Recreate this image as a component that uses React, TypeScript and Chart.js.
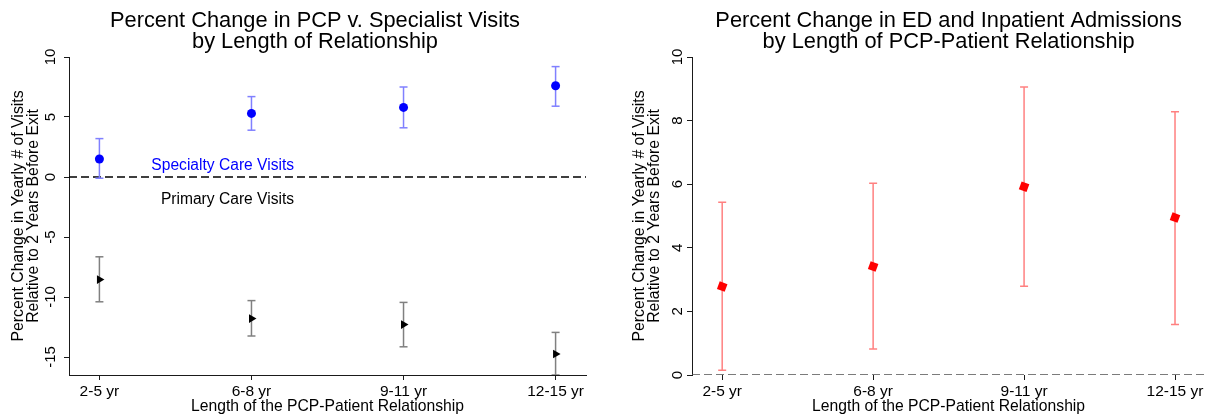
import React, { useEffect, useRef } from 'react';
import { Chart, registerables } from 'chart.js';

Chart.register(...registerables);

const FONT = "'Liberation Sans', Arial, Helvetica, sans-serif";
Chart.defaults.font.family = FONT;
Chart.defaults.color = '#000';

// ---------------- data ----------------
const categories = ['2-5 yr', '6-8 yr', '9-11 yr', '12-15 yr'];

const specialtyEst = [1.5, 5.3, 5.8, 7.6];
const specialtyLow = [-0.1, 3.9, 4.1, 5.9];
const specialtyHigh = [3.2, 6.7, 7.5, 9.2];

const primaryEst = [-8.55, -11.8, -12.3, -14.75];
const primaryLow = [-10.4, -13.25, -14.15, -16.5];
const primaryHigh = [-6.65, -10.3, -10.45, -12.95];

const edEst = [2.78, 3.41, 5.92, 4.95];
const edLow = [0.15, 0.82, 2.79, 1.59];
const edHigh = [5.43, 6.03, 9.06, 8.28];

const leftYTicks = [10, 5, 0, -5, -10, -15];
const rightYTicks = [0, 2, 4, 6, 8, 10];

const leftTitle = ['Percent Change in PCP v. Specialist Visits', 'by Length of Relationship'];
const rightTitle = ['Percent Change in ED and Inpatient Admissions', 'by Length of PCP-Patient Relationship'];
const yTitle = ['Percent Change in Yearly # of Visits', 'Relative to 2 Years Before Exit'];
const xTitle = 'Length of the PCP-Patient Relationship';

type Note = { text: string; x: number; y: number; color: string };
const leftNotes: Note[] = [
  { text: 'Specialty Care Visits', x: 2.28, y: 0.95, color: '#0000ff' },
  { text: 'Primary Care Visits', x: 2.28, y: -1.85, color: '#000000' },
];

// ---------------- helpers ----------------
const pointData = (est: number[]) => est.map((v, i) => ({ x: i + 1, y: v }));
const barData = (lo: number[], hi: number[]) => {
  const out: { x: number; y: number | null }[] = [];
  lo.forEach((l, i) => {
    out.push({ x: i + 1, y: l }, { x: i + 1, y: hi[i] }, { x: i + 1, y: null });
  });
  return out;
};

const notesPlugin = (notes: Note[]) => ({
  id: 'seriesNotes',
  afterDatasetsDraw(chart: any) {
    const { ctx, scales } = chart;
    ctx.save();
    ctx.font = `15.6px ${FONT}`;
    ctx.textAlign = 'right';
    ctx.textBaseline = 'middle';
    notes.forEach((n) => {
      ctx.fillStyle = n.color;
      ctx.fillText(n.text, scales.x.getPixelForValue(n.x), scales.y.getPixelForValue(n.y));
    });
    ctx.restore();
  },
});

const AXIS = '#1a1a1a';

function buildConfig(o: {
  title: string[];
  titleFull: boolean;
  yMin: number;
  yMax: number;
  yTicks: number[];
  padLeft: number;
  yAxisWidth: number;
  yTitlePad: number;
  yTickPad: number;
  padRight: number;
  xBorder: boolean;
  datasets: any[];
  notes: Note[];
}): any {
  return {
    type: 'line',
    data: { datasets: o.datasets },
    options: {
      responsive: false,
      animation: false,
      events: [],
      layout: { padding: { left: o.padLeft, right: o.padRight, top: 0, bottom: 0 } },
      plugins: {
        legend: { display: false },
        tooltip: { enabled: false },
        title: {
          display: true,
          text: o.title,
          fullSize: o.titleFull,
          color: '#000',
          font: { family: FONT, size: 21.8, weight: 'normal', lineHeight: '21.2px' },
          padding: { top: 9.9, bottom: 4.7 },
        },
      },
      scales: {
        x: {
          type: 'linear',
          min: 0.8,
          max: 4.2,
          afterBuildTicks: (s: any) => {
            s.ticks = categories.map((_, i) => ({ value: i + 1 }));
          },
          afterFit: (s: any) => {
            s.height = 42;
          },
          ticks: {
            autoSkip: false,
            maxRotation: 0,
            padding: 3.7,
            color: '#000',
            font: { size: 15.5, lineHeight: '15.5px' },
            callback: (v: number) => categories[Math.round(v) - 1] ?? '',
          },
          grid: { display: true, drawOnChartArea: false, drawTicks: true, tickLength: 5, color: AXIS, lineWidth: 1 },
          border: { display: o.xBorder, color: AXIS, width: 1 },
          title: {
            display: true,
            text: xTitle,
            color: '#000',
            font: { size: 15.7, lineHeight: '15.7px' },
            padding: { top: 0, bottom: 2 },
          },
        },
        y: {
          type: 'linear',
          min: o.yMin,
          max: o.yMax,
          afterBuildTicks: (s: any) => {
            s.ticks = o.yTicks.map((v) => ({ value: v }));
          },
          afterFit: (s: any) => {
            s.width = o.yAxisWidth;
          },
          ticks: {
            minRotation: 90,
            maxRotation: 90,
            crossAlign: 'center',
            padding: o.yTickPad,
            color: '#000',
            font: { size: 15, lineHeight: '15px' },
            callback: (v: number) => String(v),
          },
          grid: { display: true, drawOnChartArea: false, drawTicks: true, tickLength: 5, color: AXIS, lineWidth: 1 },
          border: { display: true, color: AXIS, width: 1 },
          title: {
            display: true,
            text: yTitle,
            color: '#000',
            font: { size: 15.8, lineHeight: '15.4px' },
            padding: { top: o.yTitlePad, bottom: 0 },
          },
        },
      },
    },
    plugins: [notesPlugin(o.notes)],
  };
}

const markerSet = (est: number[], color: string, style: string, radius: number, rotation = 0) => ({
  data: pointData(est),
  showLine: false,
  pointStyle: style,
  pointRotation: rotation,
  pointRadius: radius,
  pointBackgroundColor: color,
  pointBorderColor: color,
  pointBorderWidth: 0,
  order: 0,
});

const ciSet = (lo: number[], hi: number[], color: string) => ({
  data: barData(lo, hi),
  borderColor: color,
  borderWidth: 1.5,
  spanGaps: false,
  pointStyle: 'line',
  pointRadius: 4,
  pointBorderColor: color,
  pointBorderWidth: 1.5,
  order: 1,
});

const zeroSet = (color: string) => ({
  data: [
    { x: 0.8, y: 0 },
    { x: 4.2, y: 0 },
  ],
  borderColor: color,
  borderWidth: 1.5,
  borderDash: [8, 4],
  pointRadius: 0,
  order: 2,
});

// left canvas: x 0..605, plot area 69..586; title centred a little left of the plot centre
const LEFT_PAD = 44;
const leftConfig = () =>
  buildConfig({
    title: leftTitle,
    titleFull: true,
    yMin: -16.5,
    yMax: 10,
    yTicks: leftYTicks,
    padLeft: LEFT_PAD,
    yAxisWidth: 69 - LEFT_PAD,
    yTitlePad: 18.3 - LEFT_PAD - 7.7,
    yTickPad: 2.8,
    padRight: 19,
    xBorder: true,
    notes: leftNotes,
    datasets: [
      markerSet(specialtyEst, '#0000ff', 'circle', 4.5),
      markerSet(primaryEst, '#000000', 'triangle', 5, 90),
      ciSet(specialtyLow, specialtyHigh, '#8080ff'),
      ciSet(primaryLow, primaryHigh, '#808080'),
      zeroSet('#000000'),
    ],
  });

// right canvas: x 605..1211, plot area 692..1209
const rightConfig = () =>
  buildConfig({
    title: rightTitle,
    titleFull: false,
    yMin: 0,
    yMax: 10,
    yTicks: rightYTicks,
    padLeft: 0,
    yAxisWidth: 87,
    yTitlePad: 34.3 - 7.7,
    yTickPad: 0.4,
    padRight: 2,
    xBorder: false,
    notes: [],
    datasets: [
      markerSet(edEst, '#ff0000', 'rect', 5.8, 20),
      ciSet(edLow, edHigh, '#ff8080'),
      zeroSet('#505050'),
    ],
  });

function ChartPanel({ left, width, height, make }: { left: number; width: number; height: number; make: () => any }) {
  const ref = useRef<HTMLCanvasElement | null>(null);
  useEffect(() => {
    if (!ref.current) return;
    const chart = new Chart(ref.current, make());
    return () => chart.destroy();
  }, []);
  return (
    <canvas
      ref={ref}
      width={width}
      height={height}
      style={{ position: 'absolute', left, top: 0, width, height, display: 'block' }}
    />
  );
}

export default function App() {
  return (
    <div style={{ position: 'absolute', left: 0, top: 0, width: 1211, height: 417, background: '#ffffff', overflow: 'hidden' }}>
      <ChartPanel left={0} width={605} height={417} make={leftConfig} />
      <ChartPanel left={605} width={606} height={417} make={rightConfig} />
    </div>
  );
}
